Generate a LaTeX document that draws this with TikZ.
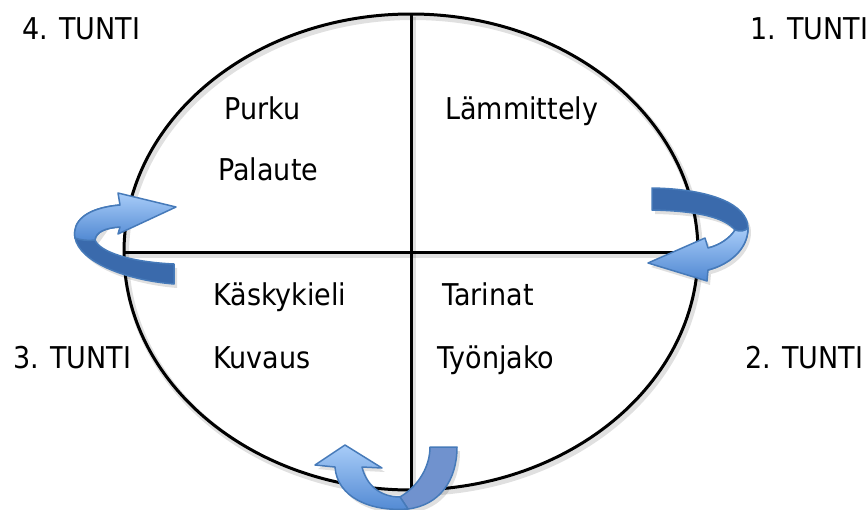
\documentclass[tikz,border=0pt]{standalone}
\usepackage{fontspec}
\setmainfont{DejaVu Sans}[FakeStretch=0.9]
\usetikzlibrary{shapes.geometric}

\definecolor{ribbonedge}{RGB}{70,122,185}
\definecolor{ribbondark}{RGB}{58,106,172}
\definecolor{ribbonlight}{RGB}{168,204,248}
\definecolor{ribbonmid}{RGB}{80,136,210}
\definecolor{ribbontail}{RGB}{112,146,206}

\tikzset{
  lbl/.style={anchor=base west, inner sep=0pt, font=\fontsize{30}{36}\selectfont},
  frame/.style={line width=3pt, black},
  frameshadow/.style={line width=6pt, black, opacity=0.12},
  backface/.style={fill=ribbondark, draw=ribbonedge, line width=1.5pt, line join=round},
  frontface/.style={top color=ribbonlight, bottom color=ribbonmid, draw=ribbonedge, line width=1.5pt, line join=round},
  tailface/.style={fill=ribbontail, draw=ribbonedge, line width=1.5pt, line join=round},
  dropshadow/.style={fill=black, opacity=0.12, shift={(3,4)}}
}

\begin{document}
\begin{tikzpicture}[x=1pt, y=-1pt]
\useasboundingbox (0,0) rectangle (867,509);

% cycle frame: ellipse split into four quarters
\node[ellipse, minimum width=574pt, minimum height=476pt, inner sep=0pt] (E) at (411,252) {};
\draw[frameshadow] ([shift={(2,3)}]E.north) -- ([shift={(2,3)}]E.south);
\draw[frameshadow] ([shift={(2,3)}]E.west) -- ([shift={(2,3)}]E.east);
\draw[frameshadow] (413,255) ellipse [x radius=287, y radius=238];
\draw[frame] (E.center) ellipse [x radius=287, y radius=238];
\draw[frame] (E.north) -- (E.south);
\draw[frame] (E.west) -- (E.east);

% quarter texts
\node[lbl] (purku) at (224,119) {Purku};
\node[lbl] (palaute) at (218,180) {Palaute};
\node[lbl] (lamm) at (445,119) {Lämmittely};
\node[lbl] (kasky) at (213,305) {Käskykieli};
\node[lbl] (kuvaus) at (213,368) {Kuvaus};
\node[lbl] (tarinat) at (442,305) {Tarinat};
\node[lbl] (tyonjako) at (437,368) {Työnjako};

% lesson labels
\node[lbl] (t4) at (22,39) {4. TUNTI};
\node[lbl] (t1) at (750,39) {1. TUNTI};
\node[lbl] (t3) at (13,368) {3. TUNTI};
\node[lbl] (t2) at (745,368) {2. TUNTI};

% left curved arrow (3 -> 4)
\fill[dropshadow] (120,205) .. controls (85,208) and (72,222) .. (75,238)
  .. controls (80,262) and (125,280) .. (174,284) -- (174,264)
  .. controls (130,262) and (98,252) .. (95,240) -- cycle;
\path[backface] (120,205) .. controls (85,208) and (72,222) .. (75,238)
  .. controls (80,262) and (125,280) .. (174,284) -- (174,264)
  .. controls (130,262) and (100,252) .. (95,240)
  .. controls (96,232) and (105,228) .. (120,227) -- cycle;
\shadedraw[frontface] (120,205) -- (118,193) -- (176,207) -- (118,234) -- (120,227)
  .. controls (105,228) and (96,232) .. (95,240)
  .. controls (88,241) and (80,240) .. (75,238)
  .. controls (72,222) and (85,208) .. (120,205) -- cycle;

% right curved arrow (1 -> 2)
\fill[dropshadow] (652,188) .. controls (712,189) and (748,205) .. (748,228)
  .. controls (748,250) and (728,265) .. (708,270) -- (707,281) -- (648,263) -- (705,238) -- (708,248)
  .. controls (720,245) and (730,238) .. (735,230)
  .. controls (725,218) and (700,211) .. (652,210) -- cycle;
\path[backface] (652,188) .. controls (712,189) and (748,205) .. (748,228)
  .. controls (748,250) and (728,265) .. (708,270) -- (708,248)
  .. controls (720,245) and (730,238) .. (735,230)
  .. controls (725,218) and (700,211) .. (652,210) -- cycle;
\shadedraw[frontface] (748,228) .. controls (748,250) and (728,265) .. (708,270)
  -- (707,281) -- (648,263) -- (705,238) -- (708,248)
  .. controls (720,245) and (730,238) .. (735,230)
  .. controls (740,232) and (745,231) .. (748,228) -- cycle;

% bottom curved arrow (2 -> 3)
\fill[dropshadow] (335,467) -- (315,465) -- (345,445) -- (382,468) -- (362,467)
  .. controls (367,487) and (382,497) .. (400,497)
  .. controls (420,485) and (430,465) .. (430,447) -- (457,447)
  .. controls (457,480) and (440,505) .. (408,509)
  .. controls (370,512) and (337,497) .. (335,467) -- cycle;
\path[tailface] (400,497) .. controls (420,485) and (430,465) .. (430,447) -- (457,447)
  .. controls (457,480) and (440,505) .. (408,509) -- cycle;
\shadedraw[frontface] (335,467) -- (315,465) -- (345,445) -- (382,468) -- (362,467)
  .. controls (367,487) and (382,497) .. (400,497) -- (408,509)
  .. controls (370,512) and (337,497) .. (335,467) -- cycle;
\end{tikzpicture}
\end{document}
